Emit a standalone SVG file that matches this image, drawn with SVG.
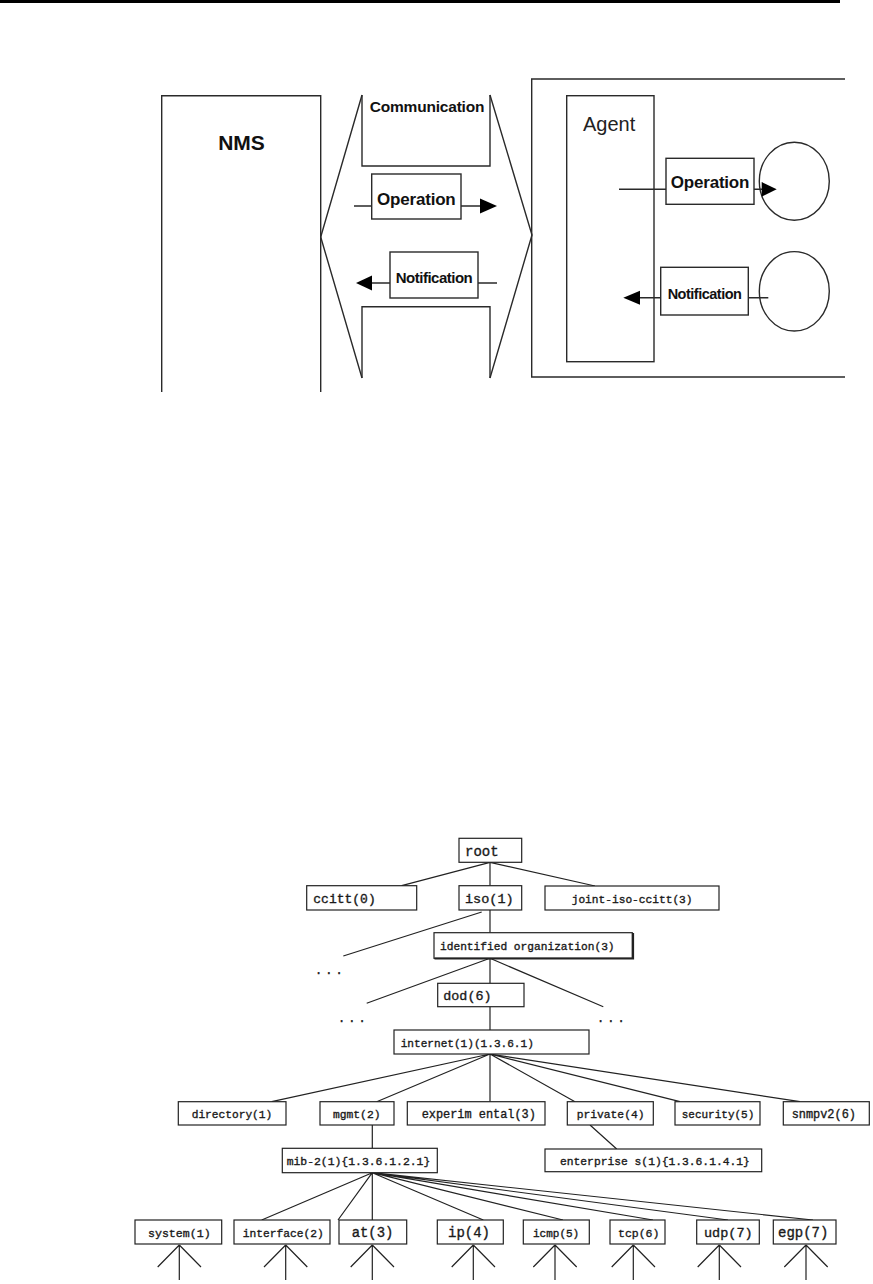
<svg xmlns="http://www.w3.org/2000/svg" width="873" height="1284" viewBox="0 0 873 1284">
<style>
.ln{stroke:#2a2a2a;stroke-width:1.4;fill:none}
.bx{fill:#fff;stroke:#2a2a2a;stroke-width:1.4}
.ah{fill:#000;stroke:none}
.sb{font-family:"Liberation Sans",Arial,sans-serif;font-weight:bold;fill:#111}
.sr{font-family:"Liberation Sans",Arial,sans-serif;fill:#222}
.tl{stroke:#222;stroke-width:1.2;fill:none}
.tb{fill:#fff;stroke:#222;stroke-width:1.2}
.m{font-family:"Liberation Mono","Courier New",monospace;fill:#1a1a1a;stroke:#1a1a1a;stroke-width:0.35}
</style>
<rect x="0" y="0" width="840" height="3" fill="#000"/>

<!-- Top diagram -->
<g id="nms">
<path class="ln" d="M161.7,392 V95.7 H320.7 V392"/>
<text class="sb" x="241.5" y="150" font-size="21" text-anchor="middle">NMS</text>
</g>
<g id="communication">
<path class="ln" d="M362,95 L320.7,237 L362,378 M490,95 L532,235 L490,378"/>
<path class="ln" d="M362,95 V166 H490 V95"/>
<path class="ln" d="M362,378 V306.7 H490 V378"/>
<text class="sb" x="427" y="112" font-size="15.5" text-anchor="middle" letter-spacing="-0.2">Communication</text>
</g>
<g id="op-left">
<rect class="bx" x="371.7" y="174" width="89.3" height="45"/>
<text class="sb" x="416.3" y="205" font-size="17" text-anchor="middle" letter-spacing="-0.2">Operation</text>
</g>
<g id="notif-left">
<rect class="bx" x="390" y="252" width="88" height="46"/>
<text class="sb" x="434" y="282.5" font-size="15" text-anchor="middle" letter-spacing="-0.5">Notification</text>
</g>
<g id="agent-outer">
<path class="ln" d="M845,79 H531.7 V377 H845"/>
</g>
<g id="agent">
<rect class="bx" x="566.7" y="95.7" width="87.3" height="266"/>
<text class="sr" x="583" y="131" font-size="20">Agent</text>
</g>
<g id="op-right">
<rect class="bx" x="666" y="158.3" width="88" height="46"/>
<text class="sb" x="710" y="188" font-size="17" text-anchor="middle" letter-spacing="-0.2">Operation</text>
</g>
<g id="notif-right">
<rect class="bx" x="660.7" y="267.3" width="87.6" height="47.7"/>
<text class="sb" x="704.5" y="298.5" font-size="14.5" text-anchor="middle" letter-spacing="-0.5">Notification</text>
</g>
<g id="mo1"><ellipse class="ln" cx="794.3" cy="181.2" rx="35" ry="39"/></g>
<g id="mo2"><ellipse class="ln" cx="794.3" cy="291.3" rx="35" ry="39.7"/></g>
<g id="top-connectors">
<path class="ln" d="M354,206 H371.7 M461,206 H481"/>
<polygon class="ah" points="480,198.5 497,206 480,213.5"/>
<path class="ln" d="M371,283 H390 M478,283 H497"/>
<polygon class="ah" points="356,283 372,275.5 372,290.5"/>
<path class="ln" d="M619,189.3 H666 M754,189.3 H763"/>
<polygon class="ah" points="761.7,182 776.7,189.3 761.7,196.6"/>
<path class="ln" d="M639,297.7 H660.7 M748.3,297.7 H768.3"/>
<polygon class="ah" points="623.3,297.7 640,290.7 640,304.7"/>
</g>

<!-- Tree connectors -->
<g id="tree-connectors">
<path class="tl" d="M490,862.3 L401.7,885.7 M490,862.3 V885.7 M490,862.3 L595,886"/>
<path class="tl" d="M490,910 V932.7 M481.7,912 L343.3,956"/>
<path class="tl" d="M490,958.3 V983.3 M490,958.3 L366.7,1003.3 M490,958.3 L603.3,1006.7"/>
<path class="tl" d="M490,1006.7 V1030"/>
<path class="tl" d="M490,1054 L271.7,1101.7 M490,1054 L376.7,1101.7 M490,1054 V1101.7 M490,1054 L575,1101.7 M490,1054 L680,1101.7 M490,1054 L800,1101.7"/>
<path class="tl" d="M372.3,1125 V1148.3 M590,1125 L616.7,1149"/>
<path class="tl" d="M372.3,1172.7 L261.7,1220 M372.3,1172.7 L338,1220 M372.3,1172.7 V1220 M372.3,1172.7 L483.3,1220 M372.3,1172.7 L563,1220 M372.3,1172.7 L653,1220 M372.3,1172.7 L728,1220 M372.3,1172.7 L813,1220"/>
<path class="tl" d="M179.3,1245 V1280 M179.3,1245 L157.7,1267 M179.3,1245 L201,1267"/>
<path class="tl" d="M285.7,1245 V1280 M285.7,1245 L264,1267 M285.7,1245 L307.3,1267"/>
<path class="tl" d="M372.3,1245 V1280 M372.3,1245 L350.7,1267 M372.3,1245 L394,1267"/>
<path class="tl" d="M473.3,1245 V1280 M473.3,1245 L451.7,1267 M473.3,1245 L495,1267"/>
<path class="tl" d="M555,1245 V1280 M555,1245 L533.3,1267 M555,1245 L576.7,1267"/>
<path class="tl" d="M633.3,1245 V1280 M633.3,1245 L611.7,1267 M633.3,1245 L655,1267"/>
<path class="tl" d="M719.3,1245 V1280 M719.3,1245 L697.7,1267 M719.3,1245 L741,1267"/>
<path class="tl" d="M806,1245 V1280 M806,1245 L784.3,1267 M806,1245 L827.7,1267"/>
</g>
<text class="m" x="315" y="974" font-size="12" letter-spacing="3">...</text>
<text class="m" x="338" y="1022" font-size="12" letter-spacing="3">...</text>
<text class="m" x="597" y="1022" font-size="12" letter-spacing="3">...</text>

<g id="root"><rect class="tb" x="459" y="838.3" width="62.7" height="24"/><text class="m" x="465" y="855.5" font-size="14">root</text></g>
<g id="ccitt"><rect class="tb" x="306.7" y="885.7" width="110" height="24.3"/><text class="m" x="313.3" y="903" font-size="13">ccitt(0)</text></g>
<g id="iso"><rect class="tb" x="459" y="885.7" width="62.7" height="24.3"/><text class="m" x="465" y="903" font-size="13.5">iso(1)</text></g>
<g id="joint"><rect class="tb" x="545" y="886" width="174" height="24"/><text class="m" x="571.7" y="902.5" font-size="11.2">joint-iso-ccitt(3)</text></g>
<g id="identified"><rect class="tb" x="434" y="932.7" width="198.3" height="25.6" stroke-width="1.6"/><path d="M434.5,958.5 H633 V933" stroke="#222" stroke-width="2.2" fill="none"/><text class="m" x="440" y="950" font-size="11.2">identified organization(3)</text></g>
<g id="dod"><rect class="tb" x="437.7" y="983.3" width="86.3" height="23.4"/><text class="m" x="443.3" y="1000" font-size="13.4">dod(6)</text></g>
<g id="internet"><rect class="tb" x="394" y="1030" width="195" height="24"/><text class="m" x="400.7" y="1046.5" font-size="11.1">internet(1)(1.3.6.1)</text></g>
<g id="directory"><rect class="tb" x="178.3" y="1101.7" width="107.7" height="23.3"/><text class="m" x="191.7" y="1118" font-size="11.2">directory(1)</text></g>
<g id="mgmt"><rect class="tb" x="320" y="1101.7" width="74" height="23.3"/><text class="m" x="333" y="1118" font-size="11.3">mgmt(2)</text></g>
<g id="experimental"><rect class="tb" x="407.3" y="1101.7" width="137.7" height="23.3"/><text class="m" x="421.7" y="1118" font-size="11.9">experim ental(3)</text></g>
<g id="private"><rect class="tb" x="567.3" y="1101.7" width="86" height="23.3"/><text class="m" x="576.7" y="1118" font-size="11.3">private(4)</text></g>
<g id="security"><rect class="tb" x="675" y="1101.7" width="85" height="23.3"/><text class="m" x="681.7" y="1118" font-size="11">security(5)</text></g>
<g id="snmpv2"><rect class="tb" x="783.3" y="1101.7" width="86" height="23.3"/><text class="m" x="791.7" y="1118" font-size="11.9">snmpv2(6)</text></g>
<g id="mib2"><rect class="tb" x="282.3" y="1148.3" width="155" height="24.4"/><text class="m" x="286.7" y="1165" font-size="11.4">mib-2(1){1.3.6.1.2.1}</text></g>
<g id="enterprises"><rect class="tb" x="545" y="1149" width="216.7" height="22.7"/><text class="m" x="560" y="1165" font-size="11.3">enterprise s(1){1.3.6.1.4.1}</text></g>
<g id="system"><rect class="tb" x="135" y="1220" width="86.7" height="24"/><text class="m" x="148" y="1236.5" font-size="11.6">system(1)</text></g>
<g id="interface"><rect class="tb" x="234" y="1220" width="96" height="24"/><text class="m" x="242.7" y="1236.5" font-size="11.25">interface(2)</text></g>
<g id="at"><rect class="tb" x="339" y="1220" width="67.7" height="24"/><text class="m" x="351.7" y="1237" font-size="13.9">at(3)</text></g>
<g id="ip"><rect class="tb" x="437.3" y="1220" width="66" height="24"/><text class="m" x="448" y="1237" font-size="14">ip(4)</text></g>
<g id="icmp"><rect class="tb" x="523.3" y="1220" width="66" height="24"/><text class="m" x="533" y="1236.5" font-size="11">icmp(5)</text></g>
<g id="tcp"><rect class="tb" x="610" y="1220" width="55" height="24"/><text class="m" x="618" y="1236.5" font-size="11.5">tcp(6)</text></g>
<g id="udp"><rect class="tb" x="696.7" y="1220" width="62.6" height="24"/><text class="m" x="704" y="1237" font-size="13.5">udp(7)</text></g>
<g id="egp"><rect class="tb" x="773.3" y="1220" width="62.7" height="24"/><text class="m" x="778" y="1237" font-size="14">egp(7)</text></g>
</svg>
